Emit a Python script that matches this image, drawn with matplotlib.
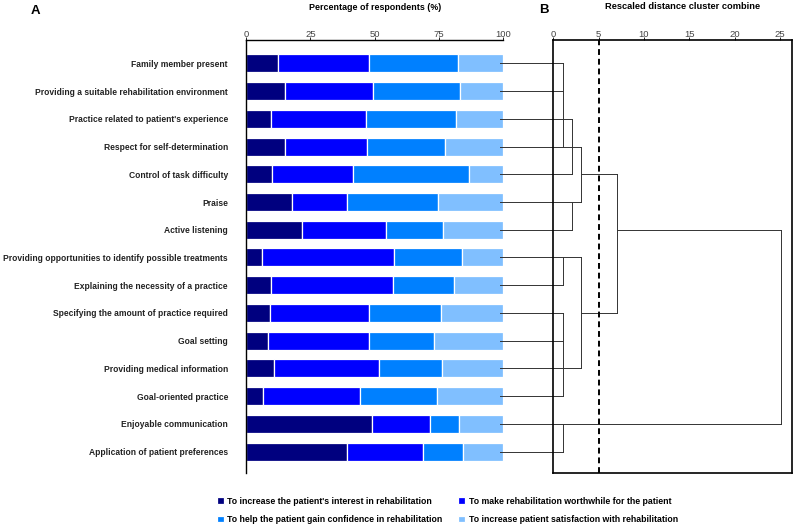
import matplotlib.pyplot as plt
from matplotlib.lines import Line2D

CATEGORIES = [
    "Family member present",
    "Providing a suitable rehabilitation environment",
    "Practice related to patient's experience",
    "Respect for self-determination",
    "Control of task difficulty",
    "Praise",
    "Active listening",
    "Providing opportunities to identify possible treatments",
    "Explaining the necessity of a practice",
    "Specifying the amount of practice required",
    "Goal setting",
    "Providing medical information",
    "Goal-oriented practice",
    "Enjoyable communication",
    "Application of patient preferences",
]

SERIES = [
    "To increase the patient's interest in rehabilitation",
    "To make rehabilitation worthwhile for the patient",
    "To help the patient gain confidence in rehabilitation",
    "To increase patient satisfaction with rehabilitation",
]

INTEREST = [12.4, 15.3, 9.6, 15.3, 10.2, 17.7, 21.6, 6.2, 9.6, 9.2, 8.5, 11.0, 6.6, 49.0, 39.1]
WORTHWHILE = [35.4, 33.9, 37.0, 31.6, 31.3, 21.4, 32.9, 51.3, 47.5, 38.7, 39.2, 40.8, 37.7, 22.5, 29.6]
CONFIDENCE = [34.5, 33.8, 34.9, 30.4, 45.3, 35.5, 21.9, 26.6, 23.9, 27.9, 25.4, 24.2, 29.8, 11.1, 15.8]
SATISFACTION = [17.7, 17.0, 18.5, 22.7, 13.2, 25.4, 23.6, 15.9, 19.0, 24.2, 26.9, 24.0, 25.9, 17.4, 15.5]

COLORS = ["#00007F", "#0000FF", "#0080FF", "#80BFFF"]

# dendrogram merges: children are leaf rows (int) or earlier merge names
MERGE_NAMES = ["a", "b", "c", "d", "e", "f", "g", "h", "i", "j"]
MERGE_CHILDREN = [
    [0, 1, 3],
    ["a", 2, 4],
    [5, 6],
    ["b", "c"],
    [7, 8],
    [9, 10, 11, 12],
    ["e", "f"],
    ["d", "g"],
    [13, 14],
    ["h", "i"],
]
MERGE_HEIGHTS = [1.03, 2.1, 2.02, 3.09, 1.03, 1.03, 3.09, 7.06, 1.1, 25.1]
MERGE_OUT_ROWS = [3, 3, 5, 4, 7, 11, 9, 6, 13, 6]

CUT_LEVEL = 5

plt.rcParams.update({"font.family": "Liberation Sans", "font.size": 6.5})

fig = plt.figure(figsize=(7.95, 5.26), dpi=100)
ylim = (14.76, -0.84)

ax = fig.add_axes([0.3094, 0.1013, 0.3237, 0.8226])
ax2 = fig.add_axes([0.696, 0.1013, 0.3006, 0.8226])

rows = list(range(len(CATEGORIES)))
left = [0.0] * len(CATEGORIES)
for name, values, color in zip(SERIES, [INTEREST, WORTHWHILE, CONFIDENCE, SATISFACTION], COLORS):
    ax.barh(rows, values, left=left, height=0.65, color=color, edgecolor="white",
            linewidth=0.9, label=name)
    left = [l + v for l, v in zip(left, values)]

ax.set_xlim(0, 100)
ax.set_ylim(*ylim)
ax.set_xticks([0, 25, 50, 75, 100])
ax.xaxis.tick_top()
ax.tick_params(axis="x", length=2.5, width=0.6, pad=-1.5, labelcolor="#444444", labelsize=6.8)
ax.set_yticks(rows, CATEGORIES, fontweight="bold", fontsize=6.15, color="#222222")
ax.tick_params(axis="y", length=0, pad=13)
ax.spines[["right", "bottom"]].set_visible(False)
ax.spines[["top", "left"]].set_linewidth(1.0)

# dendrogram
leaf_start = -5.88
node_h = {}
node_row = {}
for row in rows:
    node_h[row] = leaf_start
    node_row[row] = row
for name, children, height, out_row in zip(MERGE_NAMES, MERGE_CHILDREN, MERGE_HEIGHTS, MERGE_OUT_ROWS):
    ys = []
    for child in children:
        y = node_row[child]
        ax2.add_line(Line2D([node_h[child], height], [y, y], color="#333333",
                            linewidth=0.7, clip_on=False))
        ys.append(y)
    ax2.add_line(Line2D([height, height], [min(ys), max(ys)], color="#333333",
                        linewidth=0.7, clip_on=False))
    node_h[name] = height
    node_row[name] = out_row

ax2.axvline(CUT_LEVEL, color="black", linewidth=1.4, linestyle=(0, (3, 2)))
ax2.set_xlim(0, 26.36)
ax2.set_ylim(*ylim)
ax2.set_xticks([0, 5, 10, 15, 20, 25])
ax2.xaxis.tick_top()
ax2.tick_params(axis="x", length=2.5, width=0.6, pad=-1.5, labelcolor="#444444", labelsize=6.8)
ax2.set_yticks([])
for spine in ax2.spines.values():
    spine.set_linewidth(1.2)

fig.text(0.472, 0.994, "Percentage of respondents (%)", ha="center", va="top",
         fontweight="bold", fontsize=6.4)
fig.text(0.858, 0.996, "Rescaled distance cluster combine", ha="center", va="top",
         fontweight="bold", fontsize=6.7)
fig.text(0.038, 0.99, "A", ha="left", va="top", fontweight="bold", fontsize=9.5)
fig.text(0.678, 0.993, "B", ha="left", va="top", fontweight="bold", fontsize=9.5)

handles, labels = ax.get_legend_handles_labels()
order = [0, 2, 1, 3]
fig.legend([handles[i] for i in order], [labels[i] for i in order], ncol=2,
           loc="upper left", bbox_to_anchor=(0.267, 0.064), frameon=False,
           handlelength=0.8, handleheight=0.8, handletextpad=0.4,
           columnspacing=1.8, labelspacing=1.05, borderpad=0,
           prop={"weight": "bold", "size": 6.3})

fig.savefig("out.png", dpi=100)
